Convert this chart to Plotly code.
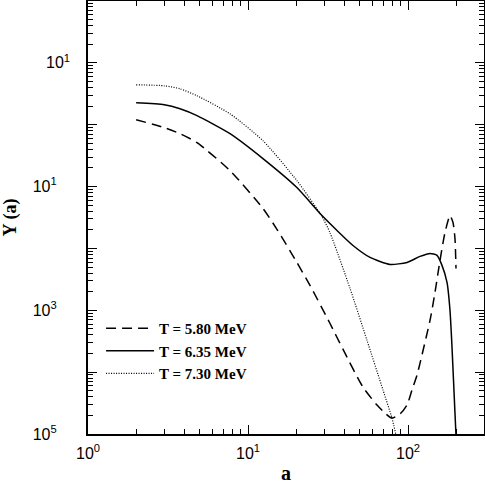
import plotly.graph_objects as go

# ---- data (a, Y) ----
a_580 = [2.0, 3.0, 3.76, 4.80, 7.72, 12.4, 15.2, 20.2, 24.4, 32.5, 39.2, 52.3, 64.0, 71.8,
         79.4, 89.1, 98.6, 105.9, 113.8, 118.9, 137.3, 147.5, 158.5, 170.3, 183.0, 191.1,
         196.6, 199.5]
y_580 = [1.205, 0.895, 0.716, 0.513, 0.181, 0.0442, 0.0202, 5.94e-3, 2.53e-3, 6.17e-4,
         2.35e-4, 5.73e-5, 2.94e-5, 2.18e-5, 1.81e-5, 2.10e-5, 2.94e-5, 5.13e-5, 8.95e-5,
         1.40e-4, 6.90e-4, 1.95e-3, 6.40e-3, 0.0181, 0.0340, 0.0262, 0.0145, 4.75e-3]

a_635 = [2.0, 3.0, 3.76, 4.80, 7.72, 12.4, 20.2, 28.6, 36.0, 45.3, 57.9, 77.2, 98.6, 118.9,
         137.3, 151.8, 163.1, 175.3, 183.0, 188.4, 196.6, 199.5]
y_635 = [2.26, 2.10, 1.81, 1.40, 0.716, 0.283, 0.0964, 0.0353, 0.0195, 0.01117, 7.16e-3,
         5.52e-3, 5.94e-3, 7.43e-3, 8.30e-3, 7.71e-3, 5.32e-3, 2.83e-3, 1.0e-3, 2.53e-4,
         2.18e-5, 9.6e-6]

a_730 = [2.0, 3.0, 3.76, 4.80, 7.72, 12.4, 20.2, 29.0, 32.5, 43.4, 55.4, 69.8, 79.4, 84.1]
y_730 = [4.42, 4.26, 3.81, 2.94, 1.50, 0.552, 0.125, 0.0328, 0.0181, 2.26e-3, 3.28e-4,
         5.13e-5, 1.81e-5, 9.6e-6]

series_names = ["T = 5.80 MeV", "T = 6.35 MeV", "T = 7.30 MeV"]

x_tickvals = [1, 10, 100]
x_ticktext = ["10<sup>0</sup>", "10<sup>1</sup>", "10<sup>2</sup>"]
y_tickvals = [1e-5, 1e-4, 1e-3, 1e-2, 1e-1, 1e0, 1e1, 1e2]
pad = "\u00a0\u00a0\u00a0"
y_ticktext = ["10<sup>5</sup>" + pad, "", "10<sup>3</sup>" + pad, "", "10<sup>1</sup>" + pad, "",
              "10<sup>1</sup>", ""]

x_minor = [m * d for d in (1, 10, 100) for m in range(2, 10) if m * d < 300]
y_minor = [m * d for d in (1e-5, 1e-4, 1e-3, 1e-2, 1e-1, 1e0, 1e1) for m in range(2, 10)]

fig = go.Figure()
fig.add_trace(go.Scatter(x=a_580, y=y_580, mode="lines", name=series_names[0],
                         line=dict(color="black", width=1.5, dash="10px,6px",
                                   shape="spline", smoothing=0.6)))
fig.add_trace(go.Scatter(x=a_635, y=y_635, mode="lines", name=series_names[1],
                         line=dict(color="black", width=1.5, shape="spline", smoothing=0.6)))
fig.add_trace(go.Scatter(x=a_730, y=y_730, mode="lines", name=series_names[2],
                         line=dict(color="black", width=1.2, dash="1px,1.5px",
                                   shape="spline", smoothing=0.6)))

tickfont = dict(family="Liberation Sans, Arial, sans-serif", size=16, color="black")
titlefont = dict(family="Liberation Serif, Times New Roman, serif", size=20, color="black")

fig.update_layout(
    width=485, height=484,
    margin=dict(l=88, r=1, t=1, b=50),
    paper_bgcolor="white", plot_bgcolor="white",
    showlegend=True,
    legend=dict(x=0.033, y=0.2815, xanchor="left", yanchor="top",
                bgcolor="rgba(0,0,0,0)", borderwidth=0,
                font=dict(family="Liberation Serif, Times New Roman, serif", size=15,
                          color="black", weight="bold"),
                itemwidth=48, tracegroupgap=0),
    xaxis=dict(type="log", range=[0, 2.475], showgrid=False, zeroline=False, automargin=False,
               showline=True, linecolor="black", linewidth=1.5, mirror="ticks",
               ticks="inside", ticklen=9, tickwidth=1.2, tickcolor="black",
               tickmode="array", tickvals=x_tickvals, ticktext=x_ticktext,
               tickfont=tickfont, ticklabelstandoff=4,
               minor=dict(tickmode="array", tickvals=x_minor, ticks="inside", ticklen=5,
                          tickwidth=1, tickcolor="black", showgrid=False),
               title=dict(text="<b>a</b>", font=titlefont, standoff=6)),
    yaxis=dict(type="log", range=[-5, 2], showgrid=False, zeroline=False, automargin=False,
               showline=True, linecolor="black", linewidth=1.5, mirror="ticks",
               ticks="inside", ticklen=9, tickwidth=1.2, tickcolor="black",
               tickmode="array", tickvals=y_tickvals, ticktext=y_ticktext,
               tickfont=tickfont, ticklabelstandoff=13,
               minor=dict(tickmode="array", tickvals=y_minor, ticks="inside", ticklen=5,
                          tickwidth=1, tickcolor="black", showgrid=False),
               title=dict(text="<b>Y (a)</b>", font=dict(family="Liberation Serif, Times New Roman, serif",
                                                        size=18, color="black"), standoff=12)),
)

fig.write_html("out.html", config={"displayModeBar": False},
               post_script="document.body.style.margin='0px';document.body.style.overflow='hidden';")
